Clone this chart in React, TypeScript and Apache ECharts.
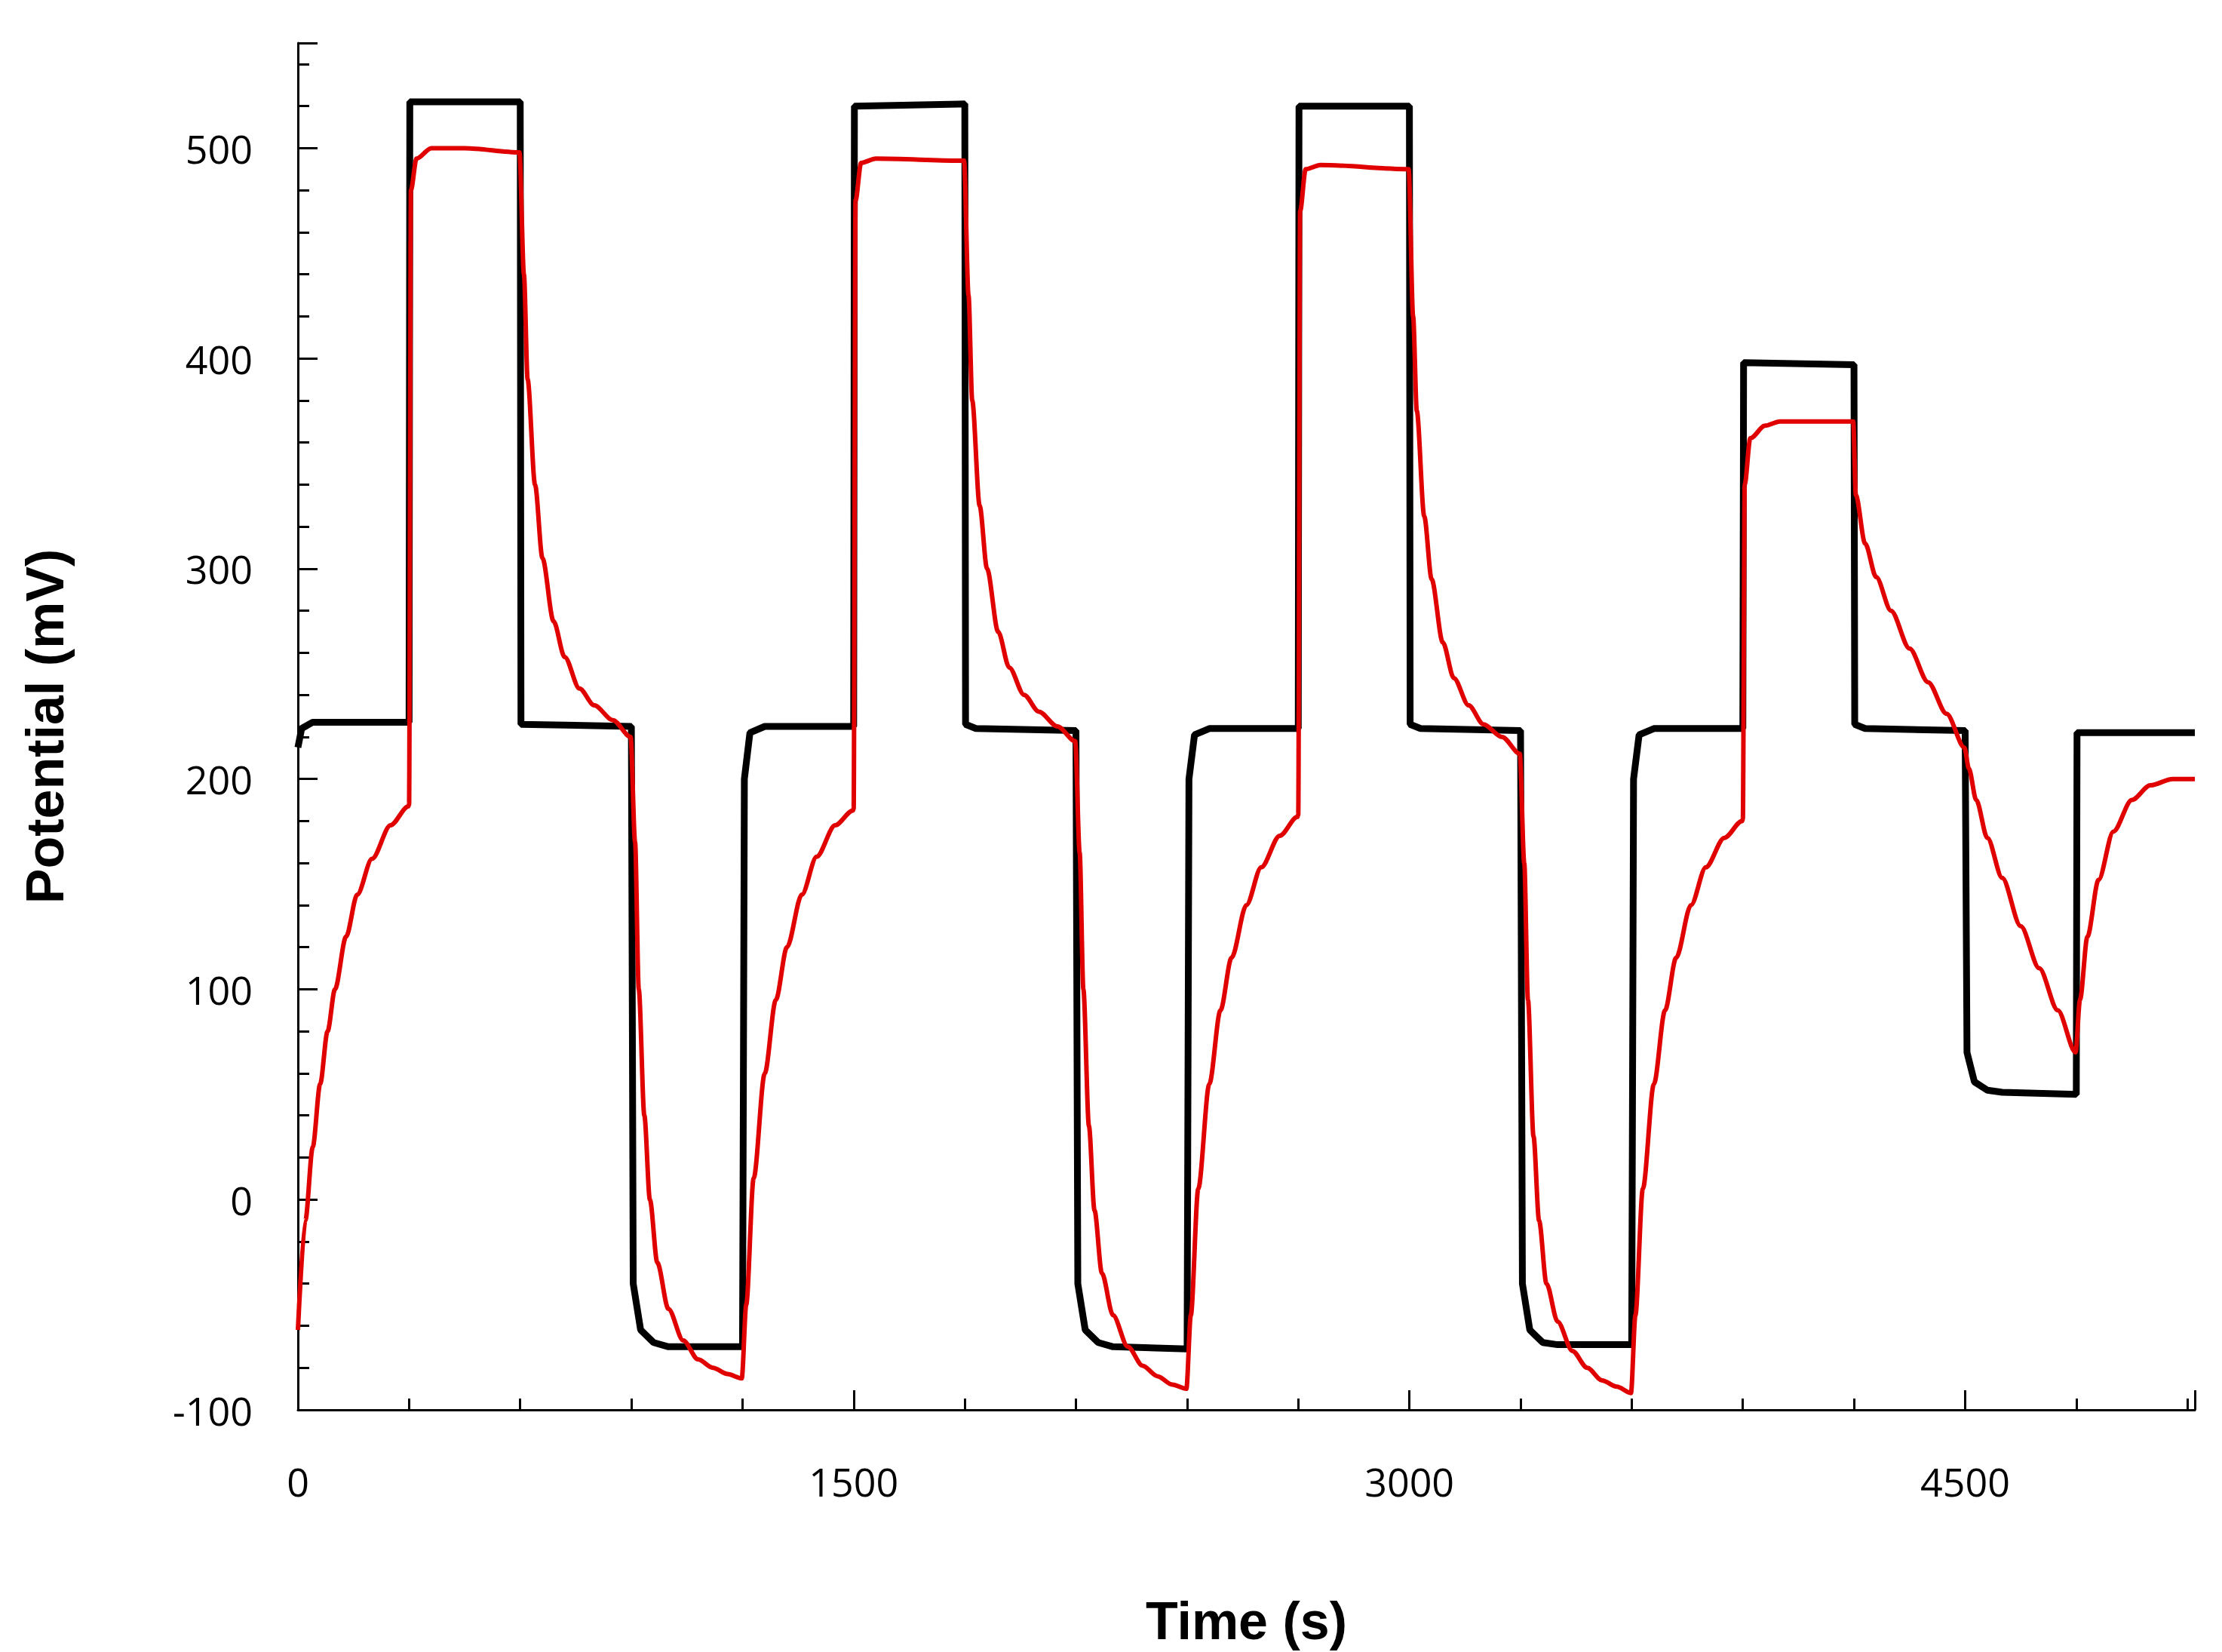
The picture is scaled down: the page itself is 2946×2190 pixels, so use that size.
import { useEffect, useRef } from "react";
import * as echarts from "echarts";

// [time (s), potential (mV)]
const blackPoints: [number, number][] = [
    [0, 215], [10, 224], [40, 227], [300, 227], [302, 522], [600, 522], [602, 226], [900, 225],
    [905, -40], [925, -62], [960, -68], [1000, -70], [1200, -70], [1205, 200], [1220, 222], [1260, 225],
    [1500, 225], [1502, 520], [1800, 521], [1802, 226], [1830, 224], [2100, 223], [2105, -40], [2125, -62],
    [2160, -68], [2200, -70], [2400, -71], [2405, 200], [2420, 221], [2460, 224], [2700, 224], [2702, 520],
    [3000, 520], [3002, 226], [3030, 224], [3300, 223], [3305, -40], [3325, -62], [3360, -68], [3400, -69],
    [3600, -69], [3605, 200], [3620, 221], [3660, 224], [3900, 224], [3902, 398], [4200, 397], [4202, 226],
    [4230, 224], [4500, 223], [4505, 70], [4525, 56], [4560, 52], [4600, 51], [4800, 50], [4802, 222],
    [5120, 222],
];

const redPoints: [number, number][] = [
    [0, -62], [20, -10], [40, 25], [60, 55], [80, 80], [100, 100], [130, 125], [160, 145], [200, 162],
    [250, 178], [298, 187], [300, 188], [305, 480], [320, 495], [360, 500], [450, 500], [598, 498],
    [610, 440], [620, 390], [640, 340], [660, 305], [690, 275], [720, 258], [760, 243], [800, 235],
    [850, 228], [898, 220], [910, 170], [920, 100], [935, 40], [950, 0], [970, -30], [1000, -52],
    [1040, -67], [1080, -76], [1120, -80], [1160, -83], [1198, -85], [1210, -50], [1230, 10], [1260, 60],
    [1290, 95], [1320, 120], [1360, 145], [1400, 163], [1450, 178], [1498, 185], [1500, 186], [1505, 475],
    [1520, 493], [1560, 495], [1798, 494], [1810, 430], [1820, 380], [1840, 330], [1860, 300], [1890, 270],
    [1920, 253], [1960, 240], [2000, 232], [2050, 225], [2098, 218], [2110, 165], [2120, 100], [2135, 35],
    [2150, -5], [2170, -35], [2200, -55], [2240, -70], [2280, -79], [2320, -84], [2360, -88], [2398, -90],
    [2410, -55], [2430, 5], [2460, 55], [2490, 90], [2520, 115], [2560, 140], [2600, 158], [2650, 173],
    [2698, 182], [2700, 183], [2705, 470], [2720, 490], [2760, 492], [2998, 490], [3010, 420], [3020, 375],
    [3040, 325], [3060, 295], [3090, 265], [3120, 248], [3160, 235], [3200, 226], [3250, 220], [3298, 212],
    [3310, 160], [3320, 95], [3335, 30], [3350, -10], [3370, -40], [3400, -58], [3440, -72], [3480, -80],
    [3520, -86], [3560, -89], [3598, -92], [3610, -55], [3630, 5], [3660, 55], [3690, 90], [3720, 115],
    [3760, 140], [3800, 158], [3850, 172], [3898, 180], [3900, 181], [3905, 340], [3920, 362], [3960, 368],
    [4000, 370], [4198, 370], [4205, 335], [4230, 312], [4260, 296], [4300, 280], [4350, 262], [4400, 246],
    [4450, 231], [4498, 215], [4510, 205], [4530, 190], [4560, 172], [4600, 153], [4650, 130], [4700, 110],
    [4750, 90], [4798, 70], [4810, 95], [4830, 125], [4860, 152], [4900, 175], [4950, 190], [5000, 197],
    [5060, 200], [5120, 200],
];

const tickFont = "Open Sans";

export default function App() {
    const ref = useRef<HTMLDivElement | null>(null);

    useEffect(() => {
        document.body.style.margin = "0";
        if (!ref.current) return;
        const chart = echarts.init(ref.current, undefined, { renderer: "svg" });

        const axisCommon = {
            axisLine: { show: true, onZero: false, lineStyle: { color: "#000", width: 3 } },
            axisTick: { show: true, inside: true, length: 26, lineStyle: { color: "#000", width: 3 } },
            minorTick: { show: true, splitNumber: 5, length: 15, lineStyle: { color: "#000", width: 3 } },
            splitLine: { show: false },
            axisLabel: { color: "#000", fontSize: 52, fontFamily: tickFont, formatter: (v: number) => String(v) },
            nameTextStyle: { color: "#000", fontSize: 70, fontWeight: "bold" as const, fontFamily: "Liberation Sans" },
        };

        chart.setOption({
            animation: false,
            backgroundColor: "#fff",
            grid: { left: 395, right: 36, top: 57, bottom: 321 },
            xAxis: {
                type: "value",
                min: 0,
                max: 5120,
                interval: 1500,
                name: "Time (s)",
                nameLocation: "middle",
                nameGap: 245,
                ...axisCommon,
                axisLabel: { ...axisCommon.axisLabel, margin: 68, showMaxLabel: false },
            },
            yAxis: {
                type: "value",
                min: -100,
                max: 550,
                interval: 100,
                name: "Potential (mV)",
                nameLocation: "middle",
                nameGap: 300,
                ...axisCommon,
                axisLabel: { ...axisCommon.axisLabel, margin: 60, showMaxLabel: false },
            },
            series: [
                {
                    type: "line",
                    data: blackPoints,
                    showSymbol: false,
                    lineStyle: { color: "#000", width: 9 },
                    z: 2,
                },
                {
                    type: "line",
                    data: redPoints,
                    showSymbol: false,
                    smooth: 0.3,
                    smoothMonotone: "x",
                    lineStyle: { color: "#e00000", width: 6 },
                    z: 3,
                },
            ],
        });

        return () => chart.dispose();
    }, []);

    return <div ref={ref} style={{ width: 2946, height: 2190 }} />;
}
